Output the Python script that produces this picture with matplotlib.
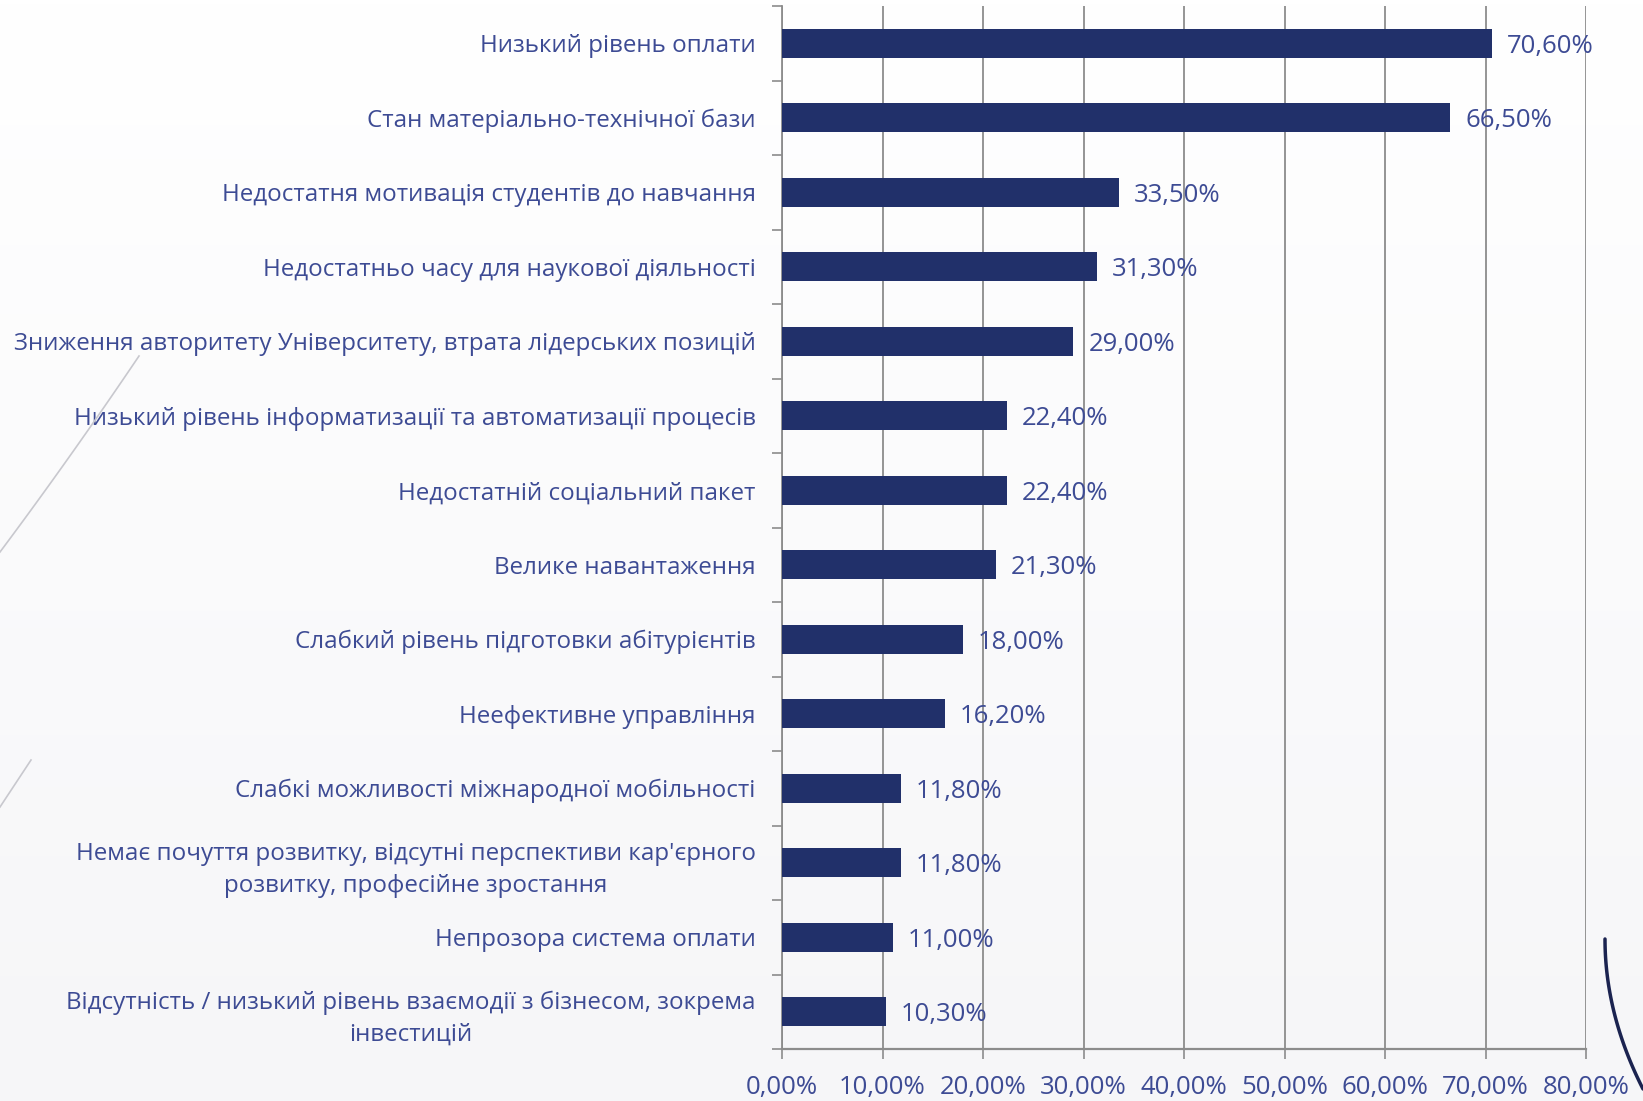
import numpy as np
import matplotlib
matplotlib.use("Agg")
import matplotlib.pyplot as plt
from matplotlib.lines import Line2D

plt.rcParams['font.family'] = ['Open Sans', 'DejaVu Sans']

# дані з діаграми (зверху вниз)
categories = [
    "Низький рівень оплати",
    "Стан матеріально-технічної бази",
    "Недостатня мотивація студентів до навчання",
    "Недостатньо часу для наукової діяльності",
    "Зниження авторитету Університету, втрата лідерських позицій",
    "Низький рівень інформатизації та автоматизації процесів",
    "Недостатній соціальний пакет",
    "Велике навантаження",
    "Слабкий рівень підготовки абітурієнтів",
    "Неефективне управління",
    "Слабкі можливості міжнародної мобільності",
    "Немає почуття розвитку, відсутні перспективи кар'єрного\nрозвитку, професійне зростання",
    "Непрозора система оплати",
    "Відсутність / низький рівень взаємодії з бізнесом, зокрема\nінвестицій",
]
values = [70.6, 66.5, 33.5, 31.3, 29.0, 22.4, 22.4, 21.3, 18.0, 16.2, 11.8, 11.8, 11.0, 10.3]
xticks = [0, 10, 20, 30, 40, 50, 60, 70, 80]

text_color = '#3D4B94'
bar_color = '#21306A'
grid_color = '#8C8C8C'
fs_cat = 17.4
fs_num = 18.5

fig = plt.figure(figsize=(16.43, 11.01), dpi=100)

# фон з легким градієнтом
bg = fig.add_axes([0, 0, 1, 1], zorder=-10)
grad = np.linspace(1.0, 0.0, 256).reshape(-1, 1)
bg.imshow(grad, aspect='auto', extent=[0, 1, 0, 1],
          cmap=matplotlib.colors.LinearSegmentedColormap.from_list('g', ['#F6F6F8', '#FFFFFF']))
bg.axis('off')

# декоративні лінії
t = np.linspace(0, 1, 50)
fig.add_artist(Line2D(139 / 1643 * (1 - t), 1 - (356 + 196 * t + 10 * t * (1 - t)) / 1101,
                      color='#C8C8CE', lw=1.2, transform=fig.transFigure))
fig.add_artist(Line2D(31 / 1643 * (1 - t), 1 - (760 + 47 * t) / 1101,
                      color='#C8C8CE', lw=1.2, transform=fig.transFigure))
cx = 1605 + 38 * t ** 2
cy = 939 + 150 * t
fig.add_artist(Line2D(cx / 1643, 1 - cy / 1101, color='#1B2350', lw=2.5,
                      transform=fig.transFigure, solid_capstyle='round'))

ax = fig.add_axes([782 / 1643, 1 - 1049 / 1101, (1586 - 782) / 1643, (1049 - 6) / 1101])
ax.patch.set_alpha(0)

y = np.arange(len(categories))
ax.barh(y, values, height=0.39, color=bar_color, zorder=3)
for yi, v in zip(y, values):
    ax.text(v + 1.5, yi, f"{v:.2f}%".replace('.', ','), va='center_baseline', ha='left',
            color=text_color, fontsize=fs_num, zorder=4)

ax.set_ylim(len(categories) - 0.5, -0.5)
ax.set_xlim(0, 80)
ax.set_xticks(xticks)
ax.set_xticklabels([f"{x:.2f}%".replace('.', ',') for x in xticks], color=text_color, fontsize=fs_num)
ax.set_yticks(y)
ax.set_yticklabels(categories, color=text_color, fontsize=fs_cat)
for lbl in ax.get_yticklabels():
    lbl.set_multialignment('center')
    lbl.set_linespacing(1.45)
ax.set_yticks(np.arange(len(categories) + 1) - 0.5, minor=True)

ax.tick_params(axis='y', which='major', length=0, pad=19)
ax.tick_params(axis='y', which='minor', length=7, width=1.2, color=grid_color, direction='out')
ax.tick_params(axis='x', length=7, width=1.2, color=grid_color, pad=12)

ax.grid(axis='x', color=grid_color, linewidth=1.3, zorder=0)
for s in ['top', 'right']:
    ax.spines[s].set_visible(False)
ax.spines['left'].set_color(grid_color)
ax.spines['left'].set_linewidth(1.3)
ax.spines['bottom'].set_color(grid_color)
ax.spines['bottom'].set_linewidth(1.6)

fig.savefig('out.png', dpi=100)
